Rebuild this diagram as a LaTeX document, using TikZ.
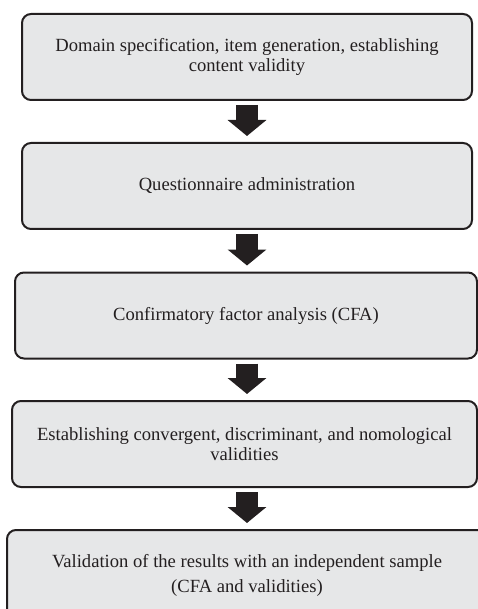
\documentclass[tikz,border=0pt]{standalone}
\usepackage{fontspec}
\setmainfont{Liberation Serif}
\usetikzlibrary{arrows.meta}

\definecolor{boxgray}{HTML}{E6E7E8}
\definecolor{inkblack}{HTML}{231F20}

\begin{document}
\begin{tikzpicture}[
		x=1pt, y=-1pt,
		stepnode/.style={
		% The shape:
		rectangle,
		rounded corners=9pt,
		% The size:
		minimum height=86pt,
		% The border:
		line width=2pt,
		draw=inkblack,
		% The filling:
		fill=boxgray,
		% Font
		text=inkblack,
		align=center,
		font=\fontsize{18.6}{20}\selectfont
    		},
		blockarrow/.style={
		% thick shaft with a wide head
		line width=22pt,
		draw=inkblack,
		-{Triangle[width=38pt,length=16pt]},
		shorten <=4pt,
		shorten >=6pt
		}
	]
	\useasboundingbox (0,0) rectangle (478,609);

	\node (DOM)[stepnode, minimum width=450pt] at (247,57) {Domain specification, item generation, establishing\\content validity};
	\node (QST)[stepnode, minimum width=450pt] at (247,186) {Questionnaire administration};
	\node (CFA)[stepnode, minimum width=462pt] at (246,315.5) {Confirmatory factor analysis (CFA)};
	\node (VAL)[stepnode, minimum width=465pt] at (244.5,444) {Establishing convergent, discriminant, and nomological\\validities};
	\node (IND)[stepnode, minimum width=480pt, minimum height=90pt] at (247,575) {Validation of the results with an independent sample\\[5pt](CFA and validities)};

  	\draw [blockarrow] (DOM) -- (DOM |- QST.north);
  	\draw [blockarrow] (QST) -- (QST |- CFA.north);
  	\draw [blockarrow] (QST |- CFA.south) -- (QST |- VAL.north);
  	\draw [blockarrow] (QST |- VAL.south) -- (QST |- IND.north);
\end{tikzpicture}
\end{document}
